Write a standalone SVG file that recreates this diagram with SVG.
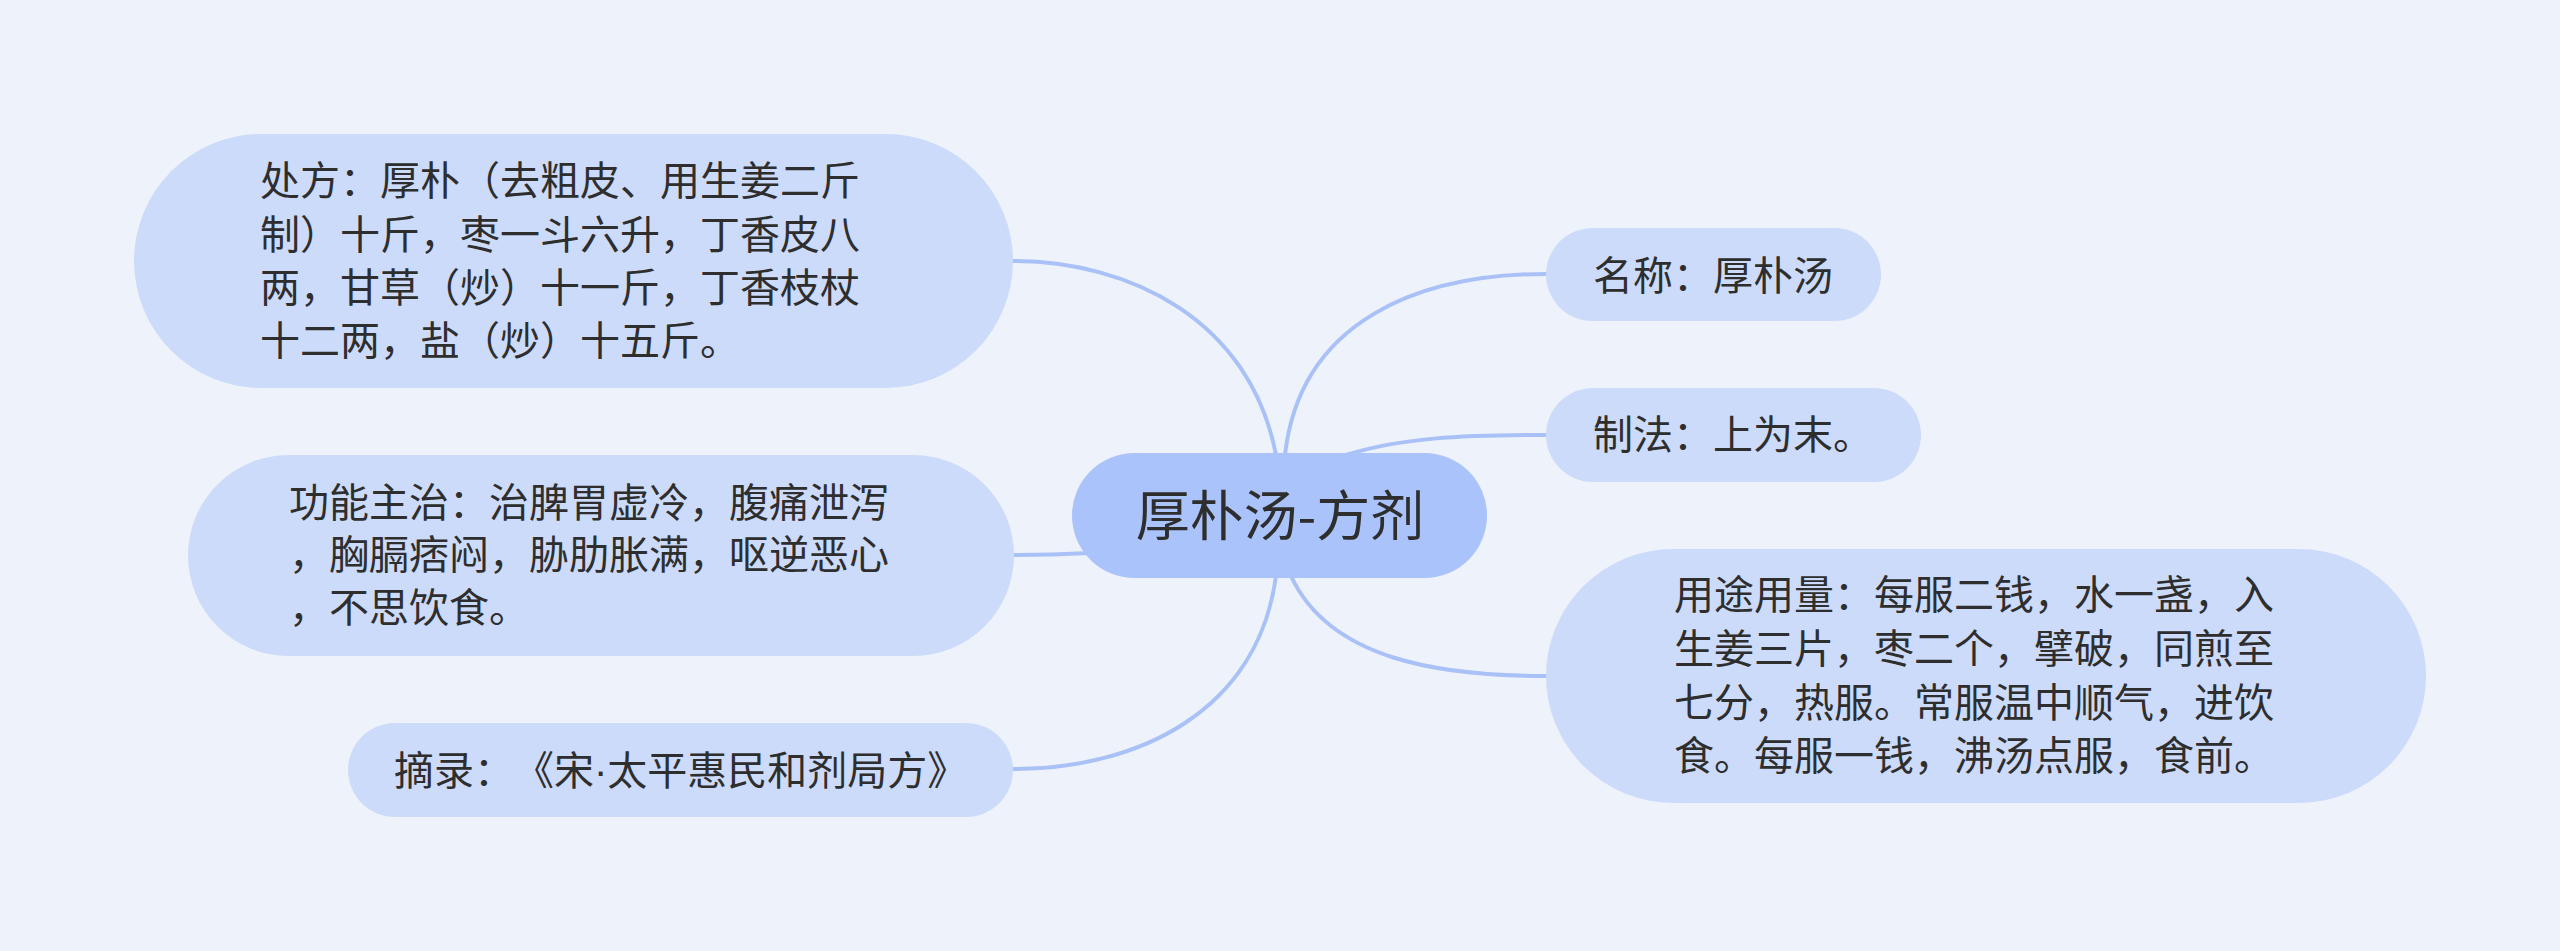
<svg xmlns="http://www.w3.org/2000/svg" width="2560" height="951" viewBox="0 0 2560 951">
<style>
.bg{fill:#eef3fb}
.leaf{fill:#ccdbfa}
.root{fill:#aac3fa}
.edge{fill:none;stroke:#a9c1f6;stroke-width:4;stroke-linecap:round}
.t{font-family:"Noto Sans CJK SC","Noto Sans",sans-serif;font-size:40px;fill:#2e2e2e}
.rt{font-family:"Noto Sans CJK SC","Noto Sans",sans-serif;font-size:54px;fill:#2e2e2e;text-anchor:middle}
.nt{text-spacing-trim:space-all;font-feature-settings:"chws" 0}
.dot{font-family:"Liberation Sans",sans-serif}
</style>
<rect class="bg" x="0" y="0" width="2560" height="951"/>
<g id="connectors">
<path class="edge" d="M1276,455 C1250,320 1130,261 1013,261"/>
<path class="edge" d="M1285,455 C1300,320 1420,274 1546,274"/>
<path class="edge" d="M1346,455 C1400,438 1460,435 1546,435"/>
<path class="edge" d="M1013,555 C1050,555 1070,554 1090,553"/>
<path class="edge" d="M1276,576 C1258,710 1140,769 1013,769"/>
<path class="edge" d="M1291,576 C1330,660 1440,676 1546,676"/>
</g>
<g id="root">
<rect class="root" x="1072" y="453" width="415" height="125" rx="62.5"/>
<text class="rt" x="1280" y="536">厚朴汤-方剂</text>
</g>
<g id="n-chufang">
<rect class="leaf" x="134" y="134" width="879" height="254" rx="127"/>
<text class="t"><tspan x="260" y="195">处方：厚朴（去粗皮、用生姜二斤</tspan><tspan x="260" y="249">制）十斤，枣一斗六升，丁香皮八</tspan><tspan x="260" y="302">两，甘草（炒）十一斤，丁香枝杖</tspan><tspan x="260" y="355">十二两，盐（炒）十五斤。</tspan></text>
</g>
<g id="n-gongneng">
<rect class="leaf" x="188" y="455" width="826" height="201" rx="100.5"/>
<text class="t"><tspan x="289" y="517">功能主治：治脾胃虚冷，腹痛泄泻</tspan><tspan x="289" y="569">，胸膈痞闷，胁肋胀满，呕逆恶心</tspan><tspan x="289" y="622">，不思饮食。</tspan></text>
</g>
<g id="n-zhailu">
<rect class="leaf" x="348" y="723" width="665" height="94" rx="47"/>
<text class="t nt" x="394" y="785">摘录：《宋<tspan class="dot">·</tspan>太平惠民和剂局方》</text>
</g>
<g id="n-mingcheng">
<rect class="leaf" x="1546" y="228" width="335" height="93" rx="46.5"/>
<text class="t" x="1593" y="290">名称：厚朴汤</text>
</g>
<g id="n-zhifa">
<rect class="leaf" x="1546" y="388" width="375" height="94" rx="47"/>
<text class="t" x="1593" y="449">制法：上为末。</text>
</g>
<g id="n-yongtu">
<rect class="leaf" x="1546" y="549" width="880" height="254" rx="127"/>
<text class="t"><tspan x="1674" y="609">用途用量：每服二钱，水一盏，入</tspan><tspan x="1674" y="663">生姜三片，枣二个，擘破，同煎至</tspan><tspan x="1674" y="717">七分，热服。常服温中顺气，进饮</tspan><tspan x="1674" y="770">食。每服一钱，沸汤点服，食前。</tspan></text>
</g>
</svg>
